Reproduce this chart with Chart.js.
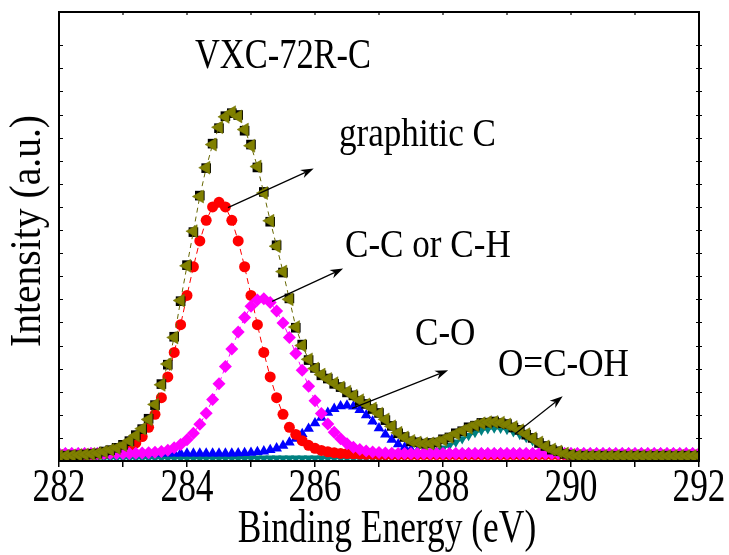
<!DOCTYPE html>
<html>
<head>
<meta charset="utf-8">
<script src="https://cdn.jsdelivr.net/npm/chart.js@4.4.0/dist/chart.umd.min.js"></script>
<style>
html, body { margin: 0; padding: 0; background: #fff; }
#wrap { position: relative; width: 729px; height: 555px; overflow: hidden; }
#wrap canvas { position: absolute; left: 0; top: 0; }
.lbl { position: absolute; white-space: nowrap; line-height: 1; color: #000; font-family: "Liberation Serif", "Times New Roman", serif; transform-origin: 0 0; }
</style>
</head>
<body>
<div id="wrap"><canvas id="c" width="729" height="555"></canvas></div>
<script>
// binding energy, eV (one point every 0.1 eV)
var energy = [
  282.0, 282.1, 282.2, 282.3, 282.4, 282.5, 282.6, 282.7, 282.8, 282.9,
  283.0, 283.1, 283.2, 283.3, 283.4, 283.5, 283.6, 283.7, 283.8, 283.9,
  284.0, 284.1, 284.2, 284.3, 284.4, 284.5, 284.6, 284.7, 284.8, 284.9,
  285.0, 285.1, 285.2, 285.3, 285.4, 285.5, 285.6, 285.7, 285.8, 285.9,
  286.0, 286.1, 286.2, 286.3, 286.4, 286.5, 286.6, 286.7, 286.8, 286.9,
  287.0, 287.1, 287.2, 287.3, 287.4, 287.5, 287.6, 287.7, 287.8, 287.9,
  288.0, 288.1, 288.2, 288.3, 288.4, 288.5, 288.6, 288.7, 288.8, 288.9,
  289.0, 289.1, 289.2, 289.3, 289.4, 289.5, 289.6, 289.7, 289.8, 289.9,
  290.0, 290.1, 290.2, 290.3, 290.4, 290.5, 290.6, 290.7, 290.8, 290.9,
  291.0, 291.1, 291.2, 291.3, 291.4, 291.5, 291.6, 291.7, 291.8, 291.9,
  292.0
];

// measured spectrum (black squares)
var rawData = [
  0.21, 0.23, 0.25, 0.25, 0.28, 0.31, 0.33, 0.41, 0.47, 0.57,
  0.70, 0.86, 1.12, 1.38, 1.83, 2.42, 3.33, 4.17, 5.38, 6.92,
  8.48, 9.91, 11.49, 12.68, 13.74, 14.41, 14.93, 15.06, 14.98, 14.30,
  13.70, 12.71, 11.65, 10.36, 9.34, 8.16, 7.04, 5.77, 5.04, 4.37,
  4.03, 3.71, 3.57, 3.34, 3.20, 2.97, 2.84, 2.60, 2.47, 2.25,
  2.08, 1.77, 1.52, 1.20, 1.04, 0.85, 0.81, 0.75, 0.78, 0.80,
  0.94, 1.02, 1.20, 1.29, 1.46, 1.53, 1.65, 1.66, 1.71, 1.64,
  1.60, 1.45, 1.35, 1.14, 1.00, 0.78, 0.65, 0.49, 0.42, 0.31,
  0.27, 0.22, 0.23, 0.21, 0.22, 0.23, 0.21, 0.22, 0.23, 0.21,
  0.22, 0.23, 0.21, 0.22, 0.22, 0.23, 0.21, 0.22, 0.23, 0.22,
  0.22
];

// fitted envelope (olive triangles)
var envelope = [
  0.22, 0.23, 0.24, 0.26, 0.28, 0.30, 0.34, 0.40, 0.48, 0.56,
  0.68, 0.88, 1.10, 1.40, 1.80, 2.45, 3.30, 4.20, 5.35, 6.95,
  8.45, 9.95, 11.45, 12.70, 13.70, 14.45, 14.90, 15.10, 14.92, 14.35,
  13.65, 12.75, 11.60, 10.40, 9.30, 8.20, 7.00, 5.80, 5.00, 4.40,
  4.00, 3.74, 3.55, 3.37, 3.18, 3.00, 2.82, 2.63, 2.45, 2.27,
  2.05, 1.80, 1.50, 1.22, 1.02, 0.87, 0.80, 0.76, 0.76, 0.82,
  0.92, 1.04, 1.18, 1.31, 1.44, 1.55, 1.63, 1.68, 1.69, 1.66,
  1.58, 1.47, 1.33, 1.16, 0.98, 0.80, 0.63, 0.50, 0.41, 0.32,
  0.26, 0.23, 0.22, 0.22, 0.22, 0.22, 0.22, 0.22, 0.22, 0.22,
  0.22, 0.22, 0.22, 0.22, 0.22, 0.22, 0.22, 0.22, 0.22, 0.22,
  0.22
];

// graphitic C component (red circles)
var graphiticC = [
  0.28, 0.28, 0.28, 0.28, 0.29, 0.29, 0.30, 0.32, 0.35, 0.40,
  0.47, 0.59, 0.78, 1.06, 1.46, 2.02, 2.74, 3.64, 4.70, 5.90,
  7.17, 8.41, 9.53, 10.42, 11.00, 11.20, 11.00, 10.42, 9.53, 8.41,
  7.17, 5.90, 4.70, 3.64, 2.74, 2.02, 1.46, 1.15, 0.88, 0.68,
  0.55, 0.46, 0.40, 0.36, 0.33, 0.32, 0.31, 0.30, 0.29, 0.29,
  0.28, 0.28, 0.28, 0.28, 0.28, 0.28, 0.28, 0.28, 0.28, 0.28,
  0.28, 0.28, 0.28, 0.28, 0.28, 0.28, 0.28, 0.28, 0.28, 0.28,
  0.28, 0.28, 0.28, 0.28, 0.28, 0.28, 0.28, 0.28, 0.28, 0.28,
  0.28, 0.28, 0.28, 0.28, 0.28, 0.28, 0.28, 0.28, 0.28, 0.28,
  0.28, 0.28, 0.28, 0.28, 0.28, 0.28, 0.28, 0.28, 0.28, 0.28,
  0.28
];

// C-C or C-H component (magenta diamonds)
var ccOrCH = [
  0.33, 0.33, 0.33, 0.33, 0.33, 0.33, 0.33, 0.33, 0.33, 0.33,
  0.33, 0.33, 0.34, 0.35, 0.36, 0.38, 0.41, 0.47, 0.57, 0.71,
  0.92, 1.20, 1.59, 2.07, 2.66, 3.34, 4.09, 4.85, 5.58, 6.21,
  6.70, 6.97, 7.02, 6.86, 6.49, 5.98, 5.35, 4.65, 3.93, 3.24,
  2.61, 2.06, 1.60, 1.24, 0.96, 0.75, 0.60, 0.50, 0.43, 0.39,
  0.37, 0.35, 0.34, 0.33, 0.33, 0.33, 0.33, 0.33, 0.33, 0.33,
  0.33, 0.33, 0.33, 0.33, 0.33, 0.33, 0.33, 0.33, 0.33, 0.33,
  0.33, 0.33, 0.33, 0.33, 0.33, 0.33, 0.33, 0.33, 0.33, 0.33,
  0.33, 0.33, 0.33, 0.33, 0.33, 0.33, 0.33, 0.33, 0.33, 0.33,
  0.33, 0.33, 0.33, 0.33, 0.33, 0.33, 0.33, 0.33, 0.33, 0.33,
  0.33
];

// C-O component (blue triangles)
var cO = [
  0.33, 0.33, 0.33, 0.33, 0.33, 0.33, 0.33, 0.33, 0.33, 0.33,
  0.33, 0.33, 0.33, 0.33, 0.33, 0.33, 0.33, 0.33, 0.33, 0.33,
  0.33, 0.33, 0.33, 0.33, 0.33, 0.33, 0.33, 0.33, 0.34, 0.35,
  0.36, 0.39, 0.42, 0.48, 0.55, 0.66, 0.80, 0.97, 1.17, 1.40,
  1.64, 1.88, 2.09, 2.26, 2.37, 2.41, 2.36, 2.21, 1.98, 1.71,
  1.42, 1.15, 0.92, 0.73, 0.59, 0.49, 0.42, 0.38, 0.36, 0.34,
  0.34, 0.33, 0.33, 0.33, 0.33, 0.33, 0.33, 0.33, 0.33, 0.33,
  0.33, 0.33, 0.33, 0.33, 0.33, 0.33, 0.33, 0.33, 0.33, 0.33,
  0.33, 0.33, 0.33, 0.33, 0.33, 0.33, 0.33, 0.33, 0.33, 0.33,
  0.33, 0.33, 0.33, 0.33, 0.33, 0.33, 0.33, 0.33, 0.33, 0.33,
  0.33
];

// O=C-OH component (teal)
var oCOH = [
  0.12, 0.12, 0.12, 0.12, 0.12, 0.12, 0.12, 0.12, 0.12, 0.12,
  0.12, 0.12, 0.12, 0.12, 0.12, 0.12, 0.12, 0.12, 0.12, 0.12,
  0.12, 0.12, 0.12, 0.12, 0.12, 0.12, 0.12, 0.12, 0.12, 0.12,
  0.12, 0.12, 0.12, 0.12, 0.12, 0.12, 0.12, 0.12, 0.12, 0.12,
  0.12, 0.12, 0.12, 0.12, 0.12, 0.12, 0.12, 0.12, 0.12, 0.12,
  0.12, 0.13, 0.14, 0.15, 0.17, 0.19, 0.23, 0.28, 0.35, 0.44,
  0.55, 0.67, 0.81, 0.95, 1.09, 1.22, 1.32, 1.39, 1.42, 1.41,
  1.35, 1.26, 1.14, 1.01, 0.87, 0.73, 0.60, 0.48, 0.39, 0.31,
  0.25, 0.21, 0.18, 0.16, 0.14, 0.13, 0.12, 0.12, 0.12, 0.12,
  0.12, 0.12, 0.12, 0.12, 0.12, 0.12, 0.12, 0.12, 0.12, 0.12,
  0.12
];

var xTickLabels = ['282', '284', '286', '288', '290', '292'];

// annotation texts, anchored in data units (left edge, baseline)
var noteTexts = ['VXC-72R-C', 'graphitic C', 'C-C or C-H', 'C-O', 'O=C-OH'];
var noteAt = [[284.12, 17.0], [286.37, 13.64], [286.47, 8.86], [287.56, 5.05], [288.86, 3.71]];
// arrows: from (x, y) to tip (x, y), data units
var arrowsAt = [
  [284.64, 10.97, 285.98, 12.66],
  [285.33, 6.91, 286.44, 8.33],
  [286.58, 2.28, 288.08, 3.93],
  [289.12, 1.16, 289.87, 2.80]
];

function pts(arr) {
  return energy.map(function(e, i) { return { x: e, y: arr[i] }; });
}

function drawArrow(ctx, x1, y1, x2, y2) {
  var ang = Math.atan2(y2 - y1, x2 - x1), L = 13, W = 4.5;
  var c = Math.cos(ang), s = Math.sin(ang);
  ctx.beginPath();
  ctx.moveTo(x1, y1);
  ctx.lineTo(x2 - c * L * 0.7, y2 - s * L * 0.7);
  ctx.stroke();
  ctx.beginPath();
  ctx.moveTo(x2, y2);
  ctx.lineTo(x2 - L * c + W * s, y2 - L * s - W * c);
  ctx.lineTo(x2 - L * 0.7 * c, y2 - L * 0.7 * s);
  ctx.lineTo(x2 - L * c - W * s, y2 - L * s + W * c);
  ctx.closePath();
  ctx.fill();
}

var frameAndArrows = {
  id: 'frameAndArrows',
  afterDraw: function(chart) {
    var ctx = chart.ctx, a = chart.chartArea;
    var xs = chart.scales.x, ys = chart.scales.y;
    ctx.save();
    ctx.strokeStyle = '#000';
    ctx.fillStyle = '#000';
    ctx.lineWidth = 2;
    ctx.strokeRect(a.left, a.top, a.right - a.left, a.bottom - a.top);

    // inner ticks on left, right and top
    ctx.lineWidth = 1.2;
    ctx.beginPath();
    ys.ticks.forEach(function(t) {
      if (t.value <= 0 || t.value % 1 !== 0) return;
      var py = Math.round(ys.getPixelForValue(t.value)) + 0.5;
      ctx.moveTo(a.left, py); ctx.lineTo(a.left + 4, py);
      ctx.moveTo(a.right - 3, py); ctx.lineTo(a.right + 3, py);
    });
    xs.ticks.forEach(function(t) {
      var px = xs.getPixelForValue(t.value);
      ctx.moveTo(px, a.top); ctx.lineTo(px, a.top + 3);
    });
    ctx.stroke();

    ctx.lineWidth = 1.2;
    arrowsAt.forEach(function(r) {
      drawArrow(ctx, xs.getPixelForValue(r[0]), ys.getPixelForValue(r[1]),
        xs.getPixelForValue(r[2]), ys.getPixelForValue(r[3]));
    });
    ctx.restore();
  }
};

var chart = new Chart(document.getElementById('c'), {
  type: 'line',
  data: {
    datasets: [
      {
        label: 'Envelope', data: pts(envelope), order: 0,
        borderColor: '#666600', borderWidth: 1, borderDash: [5, 4],
        pointStyle: 'triangle', pointRotation: 270, pointRadius: 7.5,
        pointBackgroundColor: '#808000', pointBorderColor: '#6e6e00', pointBorderWidth: 0.5
      },
      {
        label: 'Raw', data: pts(rawData), order: 1, showLine: false,
        pointStyle: 'rect', pointRadius: 6.8,
        pointBackgroundColor: '#000', pointBorderColor: '#000', pointBorderWidth: 0
      },
      {
        label: 'C-C or C-H', data: pts(ccOrCH), order: 2,
        borderColor: '#ff00ff', borderWidth: 1, borderDash: [5, 4],
        pointStyle: 'rectRot', pointRadius: 6.5,
        pointBackgroundColor: '#ff00ff', pointBorderColor: '#ff00ff', pointBorderWidth: 0
      },
      {
        label: 'graphitic C', data: pts(graphiticC), order: 3,
        borderColor: '#ff0000', borderWidth: 1, borderDash: [6, 4],
        pointStyle: 'circle', pointRadius: 5.5,
        pointBackgroundColor: '#ff0000', pointBorderColor: '#ff0000', pointBorderWidth: 0
      },
      {
        label: 'C-O', data: pts(cO), order: 4,
        borderColor: '#0000ff', borderWidth: 1, borderDash: [5, 4],
        pointStyle: 'triangle', pointRadius: 6.2,
        pointBackgroundColor: '#0000ff', pointBorderColor: '#0000ff', pointBorderWidth: 0
      },
      {
        label: 'O=C-OH', data: pts(oCOH), order: 5,
        borderColor: '#008080', borderWidth: 2,
        pointStyle: 'triangle', pointRotation: 180, pointRadius: 5.5,
        pointBackgroundColor: '#008080', pointBorderColor: '#008080', pointBorderWidth: 0
      }
    ]
  },
  options: {
    responsive: false,
    animation: false,
    devicePixelRatio: 1,
    layout: { padding: { top: 12, right: 30, left: 0, bottom: 0 } },
    plugins: { legend: { display: false }, tooltip: { enabled: false } },
    scales: {
      x: {
        type: 'linear', min: 282, max: 292,
        ticks: { stepSize: 1, display: false },
        grid: { drawOnChartArea: false, drawTicks: true, tickLength: 6, color: '#000', lineWidth: 1.5 },
        border: { display: false },
        afterFit: function(s) { s.height = 94; }
      },
      y: {
        type: 'linear', min: 0, max: 19.44,
        ticks: { stepSize: 1, display: false },
        grid: { display: false },
        border: { display: false },
        afterFit: function(s) { s.width = 59; }
      }
    }
  },
  plugins: [frameAndArrows]
});

// text layer: condensed serif labels placed from the chart's scales
var wrap = document.getElementById('wrap');
function addText(text, x, baseY, size, sx, align) {
  var el = document.createElement('span');
  el.className = 'lbl';
  el.textContent = text;
  el.style.fontSize = size + 'px';
  el.style.left = x + 'px';
  el.style.top = (baseY - 0.8375 * size) + 'px';
  el.style.transform = 'scaleX(' + sx + ')' + (align === 'center' ? ' translateX(-50%)' : '');
  wrap.appendChild(el);
}
function addVerticalText(text, cx, cy, size, sx) {
  var el = document.createElement('span');
  el.className = 'lbl';
  el.textContent = text;
  el.style.fontSize = size + 'px';
  el.style.left = cx + 'px';
  el.style.top = cy + 'px';
  el.style.transform = 'rotate(-90deg) scaleX(' + sx + ') translate(-50%, -50%)';
  wrap.appendChild(el);
}

var xs = chart.scales.x, ys = chart.scales.y, area = chart.chartArea;
xTickLabels.forEach(function(lab) {
  addText(lab, xs.getPixelForValue(Number(lab)), area.bottom + 41, 46, 0.77, 'center');
});
addText('Binding Energy (eV)', (area.left + area.right) / 2 + 8, 543, 46, 0.77, 'center');
addVerticalText('Intensity (a.u.)', 26, (area.top + area.bottom) / 2 - 6, 44, 0.9);
noteTexts.forEach(function(txt, i) {
  var big = i === 0;
  addText(txt, xs.getPixelForValue(noteAt[i][0]), ys.getPixelForValue(noteAt[i][1]),
    big ? 42 : 39, big ? 0.82 : 0.9, 'left');
});
</script>
</body>
</html>
